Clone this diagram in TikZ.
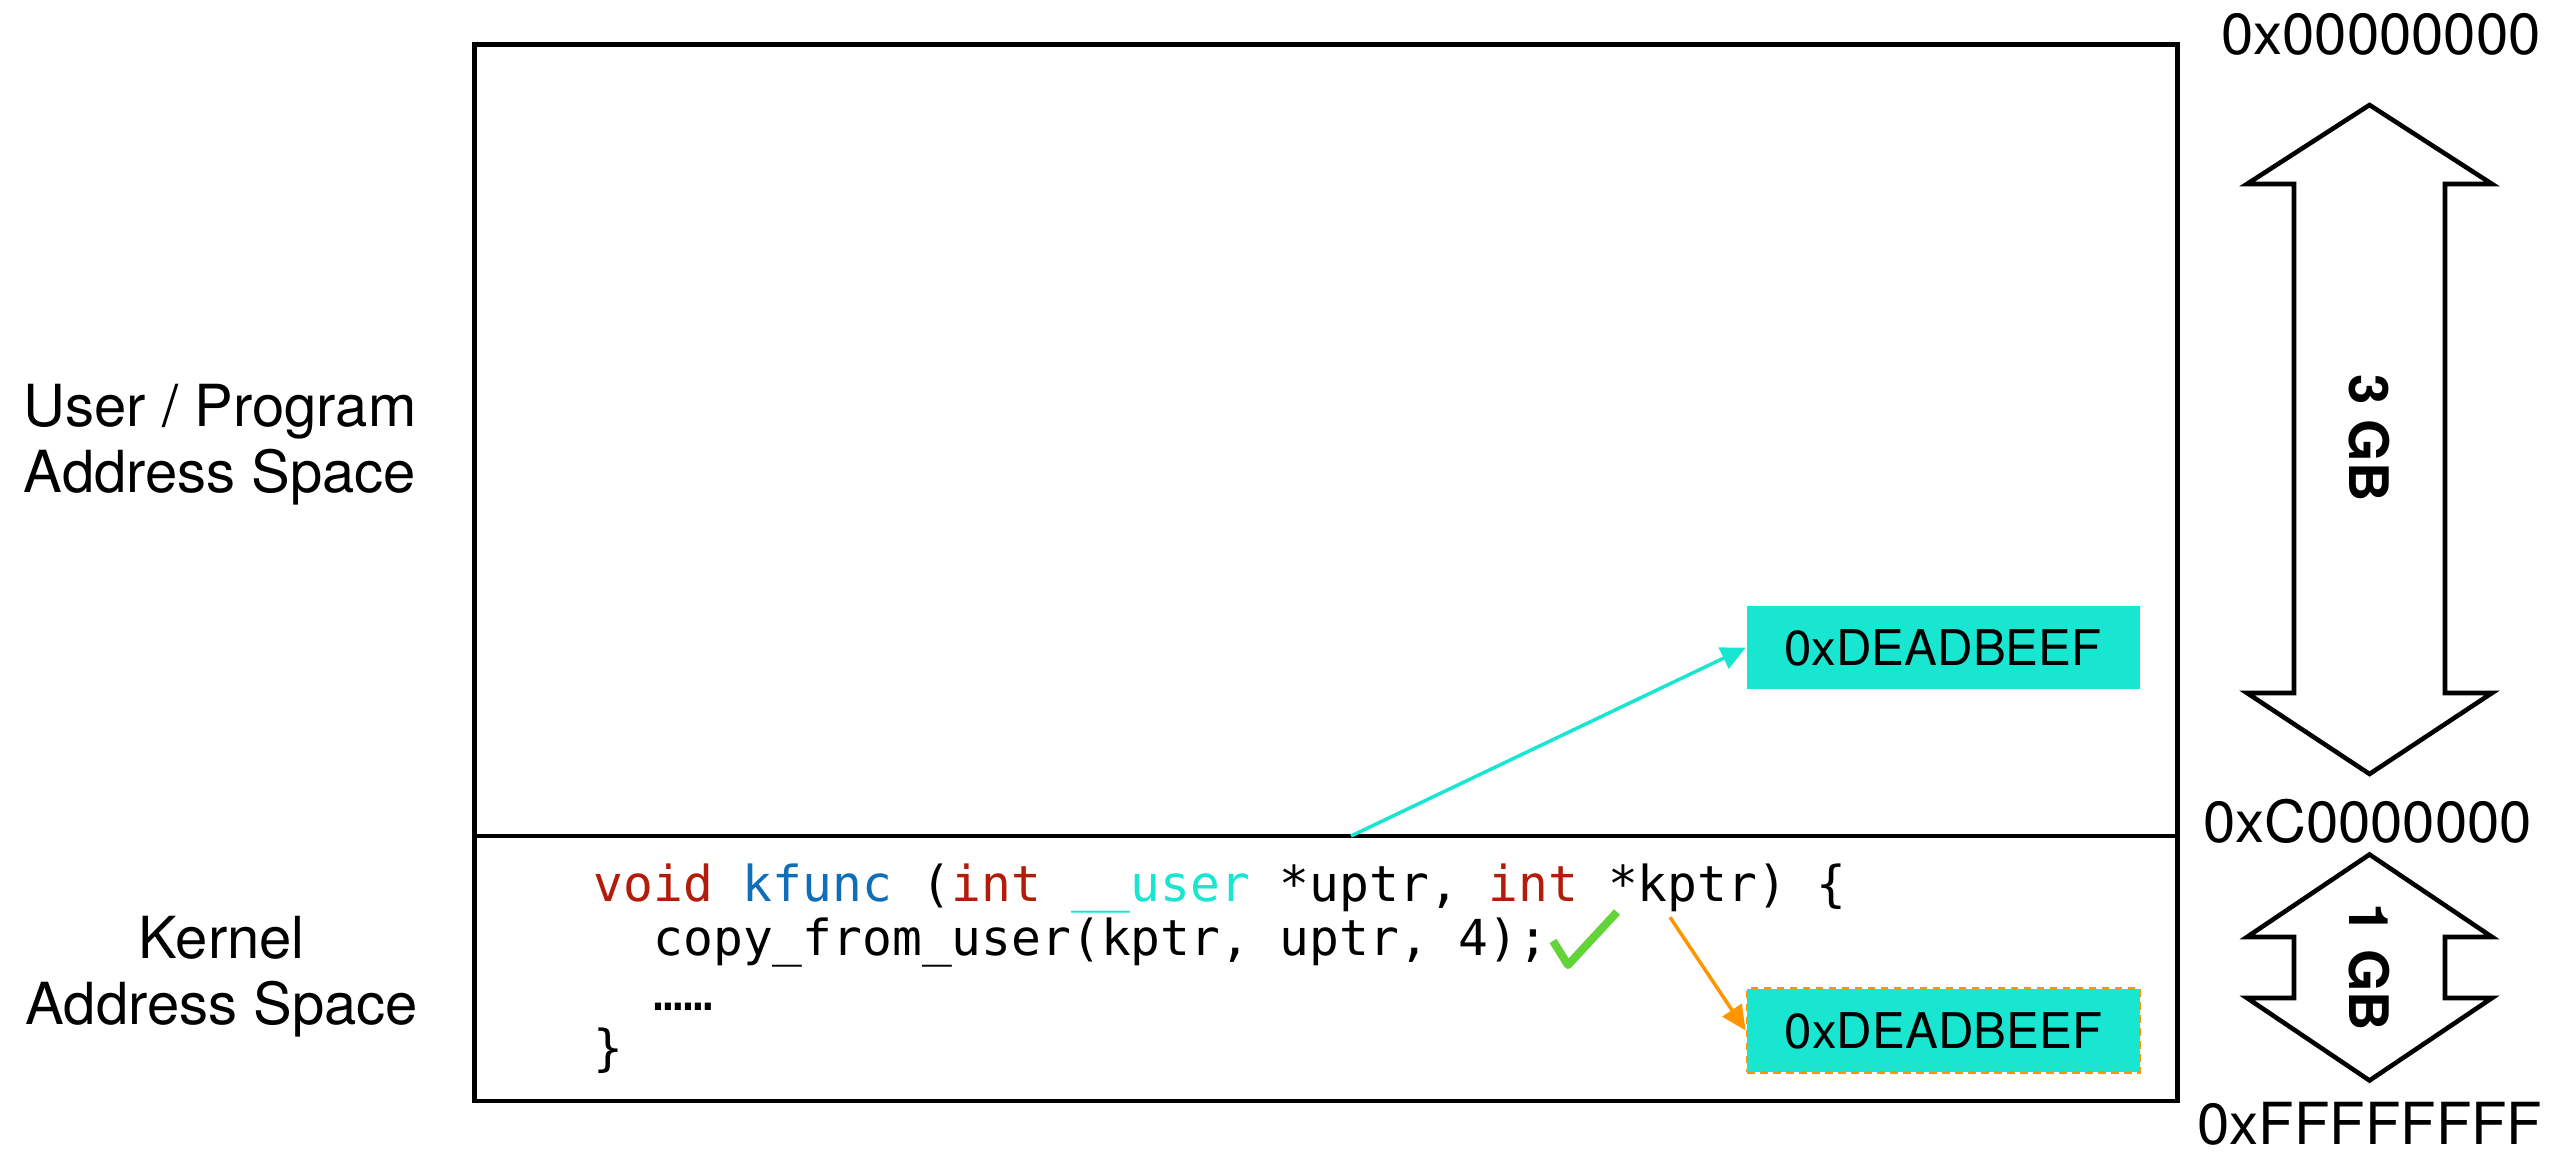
\documentclass[tikz,border=0pt]{standalone}
\usepackage{fontspec}
\setmainfont{TeX Gyre Heros}
\setmonofont{DejaVu Sans Mono}
\usetikzlibrary{arrows.meta}

\definecolor{addrcyan}{RGB}{24,230,208}
\definecolor{kwred}{RGB}{178,28,10}
\definecolor{fnblue}{RGB}{14,110,184}
\definecolor{ptrorange}{RGB}{255,149,0}
\definecolor{okgreen}{RGB}{98,212,56}

\begin{document}
\begin{tikzpicture}[
    spacetext/.style={font=\fontsize{16.5}{19}\selectfont, align=center, inner sep=0pt, anchor=base},
    addrtext/.style={font=\fontsize{16.5}{19}\selectfont, inner sep=0pt, anchor=base},
    gbtext/.style={font=\fontsize{15.5}{18}\selectfont\bfseries, inner sep=0pt, rotate=-90},
    addrbox/.style={fill=addrcyan, minimum width=3.93cm, minimum height=0.835cm, inner sep=0pt,
                    font=\fontsize{14}{16}\selectfont},
    codeline/.style={font=\ttfamily\fontsize{14.1}{16}\selectfont, inner sep=0pt, anchor=base west},
    ptrarrow/.style={line width=1pt, -{Triangle[length=7pt,width=6.5pt]}},
    blockarrow/.style={line width=1.3pt, line join=miter}
]
    \useasboundingbox (0,0) rectangle (25.75,11.52);

    % address space: user part on top, kernel part below
    \draw[line width=1.3pt] (4.745,0.51) rectangle (21.775,11.075);
    \draw[line width=1.3pt] (4.745,3.16) -- (21.775,3.16); % user / kernel split
    \coordinate (split) at (13.51,3.16);

    % base of a two-line node sits on its last line
    \node[spacetext] (usertext) at (2.20,6.59) {User / Program\\Address Space};
    \node[spacetext] (kerneltext) at (2.217,1.27) {Kernel\\Address Space};

    % kernel code
    \node[codeline] (sigline) at (5.93,2.50) {\textcolor{kwred}{void} \textcolor{fnblue}{kfunc} (\textcolor{kwred}{int} \textcolor{addrcyan}{\_\_user} *uptr, \textcolor{kwred}{int} *kptr) \{};
    \node[codeline] (callline) at (6.528,1.96) {copy\_from\_user(kptr, uptr, 4);};
    \node[codeline] (dotsline) at (6.528,1.41) {……};
    \node[codeline] (closeline) at (5.93,0.86) {\}};
    \coordinate (kptrref) at (16.70,2.347);

    % green tick after the copy call
    \draw[okgreen, line width=2.3pt, line join=round] (15.53,2.11) -- (15.68,1.87) -- (16.17,2.40);

    % the two addresses
    \node[addrbox] (ubox) at (19.43,5.044) {0xDEADBEEF};
    \node[addrbox, draw=ptrorange, line width=0.8pt, dash pattern=on 2.2pt off 1.5pt] (kbox) at (19.435,1.215) {0xDEADBEEF};

    \draw[ptrarrow, addrcyan] (split) -- (ubox.west);
    \draw[ptrarrow, ptrorange] (kptrref) -- (kbox.west);

    % sizes on the right
    \draw[blockarrow] (23.695,10.47) -- (24.92,9.68) -- (24.45,9.68) -- (24.45,4.59) -- (24.92,4.59) -- (23.695,3.78)
        -- (22.47,4.59) -- (22.94,4.59) -- (22.94,9.68) -- (22.47,9.68) -- cycle; % 3 GB arrow
    \draw[blockarrow] (23.695,2.975) -- (24.92,2.15) -- (24.45,2.15) -- (24.45,1.54) -- (24.92,1.54) -- (23.695,0.715)
        -- (22.47,1.54) -- (22.94,1.54) -- (22.94,2.15) -- (22.47,2.15) -- cycle; % 1 GB arrow
    \node[gbtext] (usersize) at (23.695,7.14) {3 GB};
    \node[gbtext] (kernelsize) at (23.695,1.845) {1 GB};

    \node[addrtext] (lowaddr) at (23.81,10.97) {0x00000000};
    \node[addrtext] (midaddr) at (23.675,3.093) {0xC0000000};
    \node[addrtext] (highaddr) at (23.70,0.075) {0xFFFFFFFF};
\end{tikzpicture}
\end{document}
